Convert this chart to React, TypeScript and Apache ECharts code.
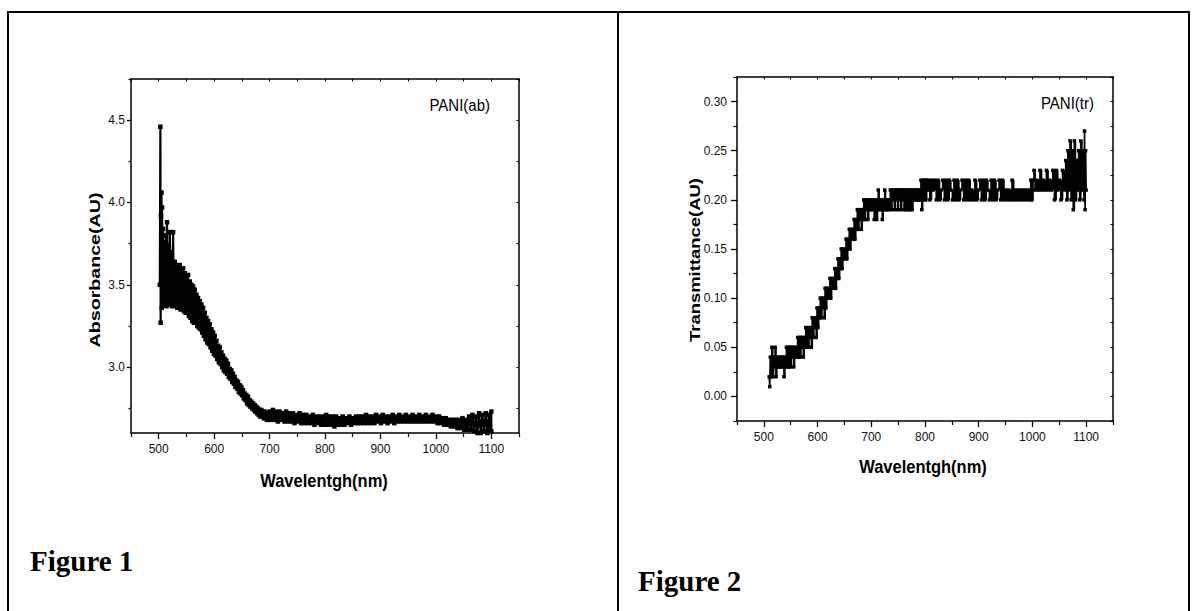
import React, { useEffect, useRef } from "react";
import * as echarts from "echarts";

const WL_MAJOR = [500, 600, 700, 800, 900, 1000, 1100];
const WL_MINOR = [450, 550, 650, 750, 850, 950, 1050, 1150];
const WL_ALL = [450, 500, 550, 600, 650, 700, 750, 800, 850, 900, 950, 1000, 1050, 1100, 1150];
const ABS_MAJOR = [3.0, 3.5, 4.0, 4.5];
const ABS_MINOR = [2.75, 3.25, 3.75, 4.25, 4.75];
const ABS_ALL = [2.75, 3.0, 3.25, 3.5, 3.75, 4.0, 4.25, 4.5, 4.75];
const TR_MAJOR = [0, 0.05, 0.1, 0.15, 0.2, 0.25, 0.3];
const TR_MINOR = [-0.025, 0.025, 0.075, 0.125, 0.175, 0.225, 0.275, 0.325];
const TR_ALL = [-0.025, 0, 0.025, 0.05, 0.075, 0.1, 0.125, 0.15, 0.175, 0.2, 0.225, 0.25, 0.275, 0.3, 0.325];

const absorbance: [number, number][] = [
  [502, 3.5], [503, 4.46], [503.5, 3.27], [504, 3.92], [505, 4.06], [505.5, 3.36], [506, 3.97], [507, 3.42],
  [508, 3.84], [509, 3.38], [510, 3.76], [511.5, 3.41], [513, 3.8], [514, 3.37], [515, 3.88], [516, 3.4],
  [517.5, 3.74], [519, 3.38], [520, 3.82], [521, 3.4], [523, 3.7], [524, 3.37], [526, 3.82], [527, 3.39],
  [529, 3.64], [530, 3.37], [532, 3.62], [533.5, 3.36], [535, 3.6], [536.5, 3.38], [538, 3.62], [539.5, 3.35],
  [541, 3.58], [542.5, 3.36], [544, 3.6], [545.5, 3.34], [547, 3.57], [548.5, 3.33], [550, 3.55], [551.5, 3.34],
  [553, 3.56], [554.5, 3.31], [556, 3.52], [557.5, 3.3], [559, 3.5], [560.5, 3.28], [562, 3.49], [563.5, 3.27],
  [565, 3.47], [566.5, 3.27], [568, 3.44], [569.5, 3.25], [571, 3.42], [572.5, 3.24], [574, 3.4], [575.5, 3.23],
  [577, 3.38], [578.5, 3.21], [580, 3.36], [581.5, 3.19], [583, 3.33], [584.5, 3.17], [586, 3.3], [587.5, 3.15],
  [589, 3.28], [590.5, 3.14], [592, 3.26], [593.5, 3.12], [595, 3.23], [596.5, 3.1], [598, 3.21], [599.5, 3.08],
  [601, 3.19], [602.5, 3.07], [604, 3.16], [605.5, 3.05], [607, 3.13], [608.5, 3.03], [610, 3.12], [611.5, 3.02],
  [613, 3.09], [614.5, 3.0], [616, 3.07], [617.5, 2.98], [619, 3.05], [620.5, 2.97], [622, 3.04], [623.5, 2.96],
  [625, 3.02], [626.5, 2.94], [628, 2.99], [629.5, 2.93], [631, 2.98], [632.5, 2.91], [634, 2.96], [635.5, 2.9],
  [637, 2.94], [638.5, 2.88], [640, 2.92], [641.5, 2.87], [643, 2.91], [644.5, 2.85], [646, 2.89], [647.5, 2.84],
  [649, 2.88], [650.5, 2.83], [652, 2.86], [653.5, 2.81], [655, 2.84], [656.5, 2.8], [658, 2.83], [659.5, 2.78],
  [661, 2.82], [662.5, 2.77], [664, 2.8], [665.5, 2.76], [667, 2.79], [668.5, 2.75], [670, 2.78], [671.5, 2.74],
  [673, 2.77], [674.5, 2.73], [676, 2.76], [677.5, 2.72], [679, 2.75], [680.5, 2.71], [682, 2.74], [683.5, 2.7],
  [685, 2.74], [686.5, 2.7], [688, 2.73], [689.5, 2.69], [691, 2.73], [692.5, 2.69], [694, 2.72], [695.5, 2.68],
  [697, 2.72], [698.5, 2.68], [700, 2.73],
  [703, 2.68], [706, 2.74], [709, 2.68], [712, 2.73], [715, 2.67], [718, 2.73], [721, 2.68], [724, 2.72],
  [727, 2.67], [730, 2.73], [733, 2.67], [736, 2.72], [739, 2.67], [742, 2.72], [745, 2.66], [748, 2.71],
  [751, 2.67], [754, 2.72], [757, 2.66], [760, 2.71], [763, 2.66], [766, 2.71], [769, 2.66], [772, 2.7],
  [775, 2.66], [778, 2.71], [781, 2.65], [784, 2.7], [787, 2.66], [790, 2.7], [793, 2.65], [796, 2.7],
  [799, 2.65], [802, 2.71], [805, 2.65], [808, 2.7], [811, 2.65], [814, 2.7], [817, 2.64], [820, 2.7],
  [823, 2.65], [826, 2.69], [829, 2.65], [832, 2.7], [835, 2.65], [838, 2.69], [841, 2.66], [844, 2.7],
  [847, 2.65], [850, 2.69], [853, 2.66], [856, 2.7], [859, 2.66], [862, 2.7], [865, 2.66], [868, 2.7],
  [871, 2.66], [874, 2.71], [877, 2.66], [880, 2.7], [883, 2.66], [886, 2.7], [889, 2.66], [892, 2.71],
  [895, 2.67], [898, 2.7], [901, 2.66], [904, 2.71], [907, 2.67], [910, 2.7], [913, 2.66], [916, 2.7],
  [919, 2.67], [922, 2.71], [925, 2.66], [928, 2.7], [931, 2.67], [934, 2.71], [937, 2.67], [940, 2.7],
  [943, 2.67], [946, 2.71], [949, 2.67], [952, 2.7], [955, 2.67], [958, 2.71], [961, 2.67], [964, 2.7],
  [967, 2.67], [970, 2.71], [973, 2.67], [976, 2.7], [979, 2.67], [982, 2.71], [985, 2.67], [988, 2.7],
  [991, 2.67], [994, 2.71], [997, 2.67], [1000, 2.7], [1003, 2.66], [1006, 2.7], [1009, 2.66], [1012, 2.69],
  [1015, 2.65], [1018, 2.69], [1021, 2.65], [1024, 2.68], [1027, 2.64], [1030, 2.68], [1033, 2.64], [1036, 2.68],
  [1039, 2.63], [1042, 2.68], [1045, 2.63], [1048, 2.69], [1051, 2.62], [1054, 2.68], [1057, 2.62], [1060, 2.7],
  [1063, 2.62], [1066, 2.71], [1069, 2.61], [1072, 2.7], [1075, 2.6], [1078, 2.72], [1081, 2.6], [1084, 2.71],
  [1087, 2.61], [1090, 2.72], [1093, 2.6], [1096, 2.71], [1098, 2.61], [1100, 2.73], [1100, 2.61],
];

const transmittance: [number, number][] = [
  [510, 0.02], [511, 0.01], [512, 0.04], [513.5, 0.02], [515, 0.05], [516.5, 0.02], [518, 0.04], [519.5, 0.03],
  [521, 0.05], [522.5, 0.02], [524, 0.04], [525.5, 0.03], [527, 0.04], [528.5, 0.03], [530, 0.04], [531.5, 0.03],
  [533, 0.04], [534.5, 0.03], [536, 0.04], [537.5, 0.02], [539, 0.04], [540.5, 0.03], [542, 0.05], [543.5, 0.03],
  [545, 0.05], [546.5, 0.03], [548, 0.05], [549.5, 0.03], [551, 0.05], [552.5, 0.04], [554, 0.05], [555.5, 0.03],
  [557, 0.05], [558.5, 0.04], [560, 0.05], [561.5, 0.04], [563, 0.06], [564.5, 0.04], [566, 0.06], [567.5, 0.04],
  [569, 0.06], [570.5, 0.05], [572, 0.06], [573.5, 0.04], [575, 0.06], [576.5, 0.05], [578, 0.07], [579.5, 0.05],
  [581, 0.07], [582.5, 0.05], [584, 0.07], [585.5, 0.06], [587, 0.07], [588.5, 0.05], [590, 0.08], [591.5, 0.06],
  [593, 0.08], [594.5, 0.07], [596, 0.08], [597.5, 0.06], [599, 0.09], [600.5, 0.07], [602, 0.09], [603.5, 0.08],
  [605, 0.1], [606.5, 0.08], [608, 0.1], [609.5, 0.09], [611, 0.1], [612.5, 0.08], [614, 0.11], [615.5, 0.09],
  [617, 0.11], [618.5, 0.1], [620, 0.11], [621.5, 0.1], [623, 0.12], [624.5, 0.1], [626, 0.12], [627.5, 0.11],
  [629, 0.12], [630.5, 0.11], [632, 0.13], [633.5, 0.11], [635, 0.13], [636.5, 0.12], [638, 0.14], [639.5, 0.12],
  [641, 0.14], [642.5, 0.13], [644, 0.15], [645.5, 0.13], [647, 0.15], [648.5, 0.14], [650, 0.15], [651.5, 0.14],
  [653, 0.16], [654.5, 0.14], [656, 0.16], [657.5, 0.15], [659, 0.17], [660.5, 0.15], [662, 0.17], [663.5, 0.16],
  [665, 0.17], [666.5, 0.16], [668, 0.18], [669.5, 0.16], [671, 0.18], [672.5, 0.17], [674, 0.19], [675.5, 0.17],
  [677, 0.19], [678.5, 0.18], [680, 0.19], [681.5, 0.17], [683, 0.19], [684.5, 0.18], [686, 0.2], [687.5, 0.18],
  [689, 0.2], [690.5, 0.19], [692, 0.2], [693.5, 0.18], [695, 0.2], [696.5, 0.19], [698, 0.2], [699.5, 0.19],
  [701, 0.2], [702.5, 0.19], [704, 0.2], [705.5, 0.18], [707, 0.2], [708.5, 0.19], [710, 0.18], [711.5, 0.2],
  [713, 0.21], [714.5, 0.19], [716, 0.2], [717.5, 0.19], [719, 0.2], [720.5, 0.18], [722, 0.2], [723.5, 0.19],
  [725, 0.21], [726.5, 0.19], [728, 0.2], [729.5, 0.19], [731, 0.2], [732.5, 0.19], [734, 0.2], [735.5, 0.21],
  [737, 0.19], [738.5, 0.21], [740, 0.2], [741.5, 0.21], [743, 0.19], [744.5, 0.21], [746, 0.2], [747.5, 0.21],
  [749, 0.19], [750.5, 0.21], [752, 0.2], [753.5, 0.21], [755, 0.19], [756.5, 0.21], [758, 0.2], [759.5, 0.21],
  [761, 0.19], [762.5, 0.21], [764, 0.19], [765.5, 0.21], [767, 0.2], [768.5, 0.19], [770, 0.21], [771.5, 0.19],
  [773, 0.21], [774.5, 0.2], [776, 0.19], [777.5, 0.21], [779, 0.2], [780.5, 0.21], [782, 0.2], [783.5, 0.21],
  [785, 0.2], [786.5, 0.21], [788, 0.2], [789.5, 0.21], [791, 0.2], [792.5, 0.22], [794, 0.19], [795.5, 0.21],
  [797, 0.22], [798.5, 0.2], [800, 0.22], [801.5, 0.2], [803, 0.22], [804.5, 0.21],
  [806, 0.22], [809, 0.2], [812, 0.22], [815, 0.21], [818, 0.22], [821, 0.2], [824, 0.22], [827, 0.2],
  [830, 0.21], [833, 0.22], [836, 0.2], [839, 0.22], [842, 0.2], [845, 0.22], [848, 0.21], [851, 0.2],
  [854, 0.22], [857, 0.2], [860, 0.22], [863, 0.2], [866, 0.21], [869, 0.22], [872, 0.2], [875, 0.22],
  [878, 0.2], [881, 0.22], [884, 0.2], [887, 0.21], [890, 0.2], [893, 0.22], [896, 0.2], [899, 0.21],
  [902, 0.22], [905, 0.2], [908, 0.22], [911, 0.2], [914, 0.22], [917, 0.21], [920, 0.2], [923, 0.22],
  [926, 0.2], [929, 0.22], [932, 0.2], [935, 0.21], [938, 0.22], [941, 0.2], [944, 0.22], [947, 0.2],
  [950, 0.21], [953, 0.2], [956, 0.21], [959, 0.2], [962, 0.22], [965, 0.2], [968, 0.21], [971, 0.2],
  [974, 0.21], [977, 0.2], [980, 0.21], [983, 0.2], [986, 0.21], [989, 0.2], [992, 0.21], [995, 0.2],
  [997, 0.22], [999, 0.2], [1001, 0.22], [1003, 0.23], [1005, 0.21], [1008, 0.22], [1011, 0.21], [1014, 0.23],
  [1017, 0.21], [1020, 0.22], [1023, 0.21], [1026, 0.23], [1029, 0.21], [1032, 0.22], [1035, 0.21], [1038, 0.23],
  [1041, 0.2], [1044, 0.23], [1047, 0.21], [1050, 0.22], [1053, 0.2], [1056, 0.23], [1059, 0.21], [1062, 0.24],
  [1064, 0.2], [1066, 0.25], [1068, 0.21], [1070, 0.26], [1072, 0.2], [1074, 0.25], [1076, 0.19], [1078, 0.26],
  [1080, 0.2], [1082, 0.24], [1084, 0.21], [1086, 0.25], [1088, 0.2], [1090, 0.26], [1092, 0.21], [1094, 0.25],
  [1096, 0.2], [1097, 0.27], [1098, 0.19], [1099, 0.25], [1100, 0.21],
];

const SANS = "'Liberation Sans', Arial, sans-serif";
const SERIF = "'Liberation Serif', 'Times New Roman', serif";

function xAxes(gridIndex: number, majorLen: number, minorLen: number, margin: number) {
  const base = {
    type: "value" as const,
    gridIndex,
    min: 450,
    max: 1150,
    splitLine: { show: false },
  };
  return [
    {
      ...base,
      position: "bottom",
      axisLine: { show: true, onZero: false, lineStyle: { color: "#000", width: 1.5 } },
      axisTick: { show: true, inside: false, length: majorLen, customValues: WL_MAJOR, lineStyle: { color: "#000", width: 1.3 } },
      axisLabel: {
        show: true,
        customValues: WL_MAJOR,
        margin,
        fontSize: 12,
        color: "#111",
        fontFamily: SANS,
        formatter: (v: number) => String(v),
      },
    },
    {
      ...base,
      position: "bottom",
      axisLine: { show: false, onZero: false },
      axisTick: { show: true, inside: false, length: minorLen, customValues: WL_MINOR, lineStyle: { color: "#000", width: 1.2 } },
      axisLabel: { show: false },
    },
    {
      ...base,
      position: "top",
      axisLine: { show: true, onZero: false, lineStyle: { color: "#000", width: 1.5 } },
      axisTick: { show: true, inside: true, length: 2.5, customValues: WL_ALL, lineStyle: { color: "#000", width: 1 } },
      axisLabel: { show: false },
    },
  ];
}

function yAxes(
  gridIndex: number,
  min: number,
  max: number,
  major: number[],
  minor: number[],
  all: number[],
  majorLen: number,
  minorLen: number,
  margin: number,
  digits: number
) {
  const base = { type: "value" as const, gridIndex, min, max, splitLine: { show: false } };
  return [
    {
      ...base,
      position: "left",
      axisLine: { show: true, onZero: false, lineStyle: { color: "#000", width: 1.5 } },
      axisTick: { show: true, inside: false, length: majorLen, customValues: major, lineStyle: { color: "#000", width: 1.3 } },
      axisLabel: {
        show: true,
        customValues: major,
        margin,
        fontSize: 12,
        color: "#111",
        fontFamily: SANS,
        formatter: (v: number) => v.toFixed(digits),
      },
    },
    {
      ...base,
      position: "left",
      axisLine: { show: false, onZero: false },
      axisTick: { show: true, inside: false, length: minorLen, customValues: minor, lineStyle: { color: "#000", width: 1.2 } },
      axisLabel: { show: false },
    },
    {
      ...base,
      position: "right",
      axisLine: { show: true, onZero: false, lineStyle: { color: "#000", width: 1.5 } },
      axisTick: { show: true, inside: true, length: 2.5, customValues: all, lineStyle: { color: "#000", width: 1 } },
      axisLabel: { show: false },
    },
  ];
}

function txt(text: string, x: number, y: number, font: string, opts: any = {}) {
  return {
    type: "text",
    x,
    y,
    rotation: opts.rotation || 0,
    scaleX: opts.scaleX || 1,
    scaleY: opts.scaleY || 1,
    silent: true,
    style: {
      text,
      font,
      fill: "#000",
      align: opts.align || "center",
      verticalAlign: "middle",
    },
  };
}

function line(x1: number, y1: number, x2: number, y2: number) {
  return {
    type: "line",
    silent: true,
    shape: { x1, y1, x2, y2 },
    style: { stroke: "#000", lineWidth: 2 },
  };
}

export default function App() {
  const ref = useRef<HTMLDivElement>(null);

  useEffect(() => {
    if (!ref.current) return;
    const chart = echarts.init(ref.current, undefined, { renderer: "svg" });
    const option: any = {
      animation: false,
      backgroundColor: "#fff",
      grid: [
        { left: 131, top: 79, width: 388, height: 354, containLabel: false },
        { left: 737, top: 77, width: 376, height: 344, containLabel: false },
      ],
      xAxis: [...xAxes(0, 6, 4, 10), ...xAxes(1, 6, 4, 10)],
      yAxis: [
        ...yAxes(0, 2.6, 4.75, ABS_MAJOR, ABS_MINOR, ABS_ALL, 4, 2.5, 6, 1),
        ...yAxes(1, -0.025, 0.325, TR_MAJOR, TR_MINOR, TR_ALL, 6, 3.5, 10, 2),
      ],
      series: [
        {
          type: "line",
          name: "PANI(ab)",
          xAxisIndex: 0,
          yAxisIndex: 0,
          data: absorbance,
          symbol: "rect",
          symbolSize: 4.5,
          lineStyle: { color: "#000", width: 2.2 },
          itemStyle: { color: "#000" },
          silent: true,
        },
        {
          type: "line",
          name: "PANI(tr)",
          xAxisIndex: 3,
          yAxisIndex: 3,
          data: transmittance,
          step: "end",
          symbol: "rect",
          symbolSize: 3.5,
          lineStyle: { color: "#000", width: 1.7 },
          itemStyle: { color: "#000" },
          silent: true,
        },
      ],
      graphic: [
        line(8, 12, 1189, 12),
        line(8, 11, 8, 611),
        line(618, 11, 618, 611),
        line(1189, 11, 1189, 611),
        txt("PANI(ab)", 490, 105, `15px ${SANS}`, { align: "right", scaleY: 1.08 }),
        txt("PANI(tr)", 1094, 103, `15px ${SANS}`, { align: "right", scaleY: 1.08 }),
        txt("Absorbance(AU)", 95, 270, `bold 15px ${SANS}`, { rotation: Math.PI / 2, scaleX: 1.31 }),
        txt("Transmittance(AU)", 695, 260, `bold 15px ${SANS}`, { rotation: Math.PI / 2, scaleX: 1.23 }),
        txt("Wavelentgh(nm)", 324, 481, `bold 16.5px ${SANS}`, { scaleY: 1.15 }),
        txt("Wavelentgh(nm)", 923, 467, `bold 16.5px ${SANS}`, { scaleY: 1.15 }),
        txt("Figure 1", 30, 561, `bold 29px ${SERIF}`, { align: "left" }),
        txt("Figure 2", 638, 581, `bold 29px ${SERIF}`, { align: "left" }),
      ],
    };
    chart.setOption(option);
    return () => chart.dispose();
  }, []);

  return (
    <div
      ref={ref}
      style={{ position: "absolute", left: 0, top: 0, width: 1197, height: 611, background: "#fff" }}
    />
  );
}
